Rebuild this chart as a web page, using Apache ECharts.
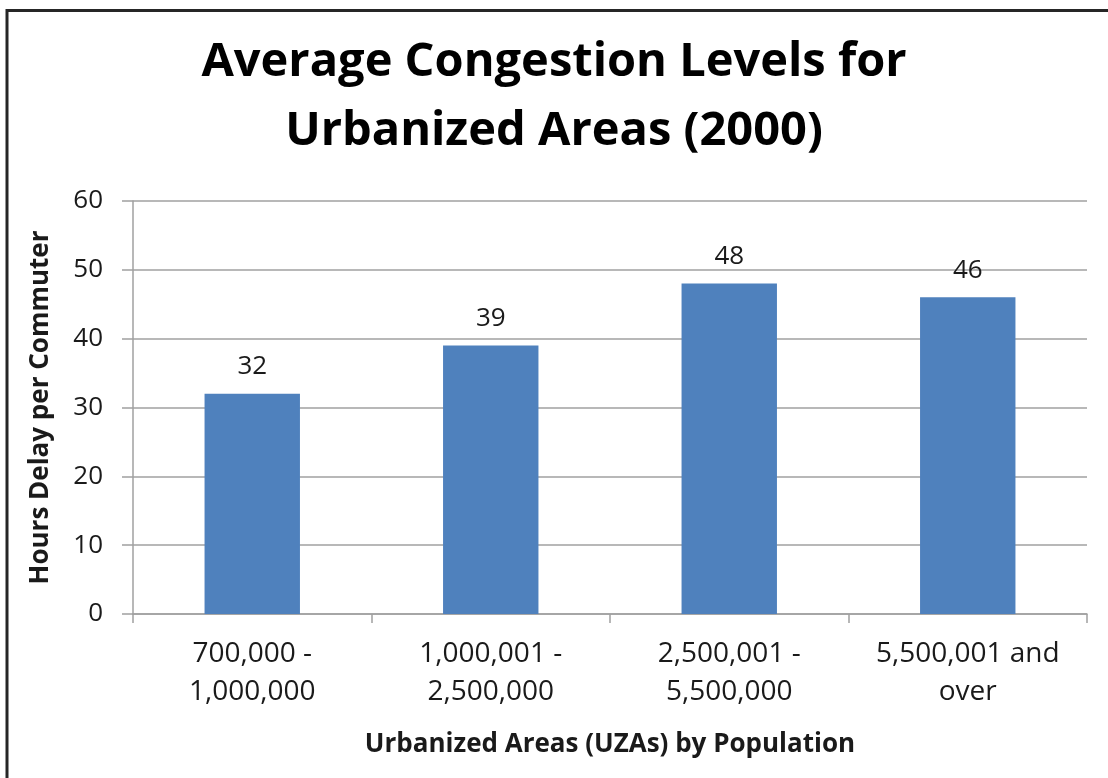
<!DOCTYPE html>
<html>
<head>
<meta charset="UTF-8">
<title>Congestion</title>
<script src="https://cdn.jsdelivr.net/npm/echarts@6/dist/echarts.min.js"></script>
<style>
  html, body, #chart { margin: 0; padding: 0; width: 1108px; height: 778px; background: #fff; }
</style>
</head>
<body>
<div id="chart"></div>
<script>
  // data
  const categories = ['700,000 -\n1,000,000', '1,000,001 -\n2,500,000', '2,500,001 -\n5,500,000', '5,500,001 and\nover'];
  const delayHours = [32, 39, 48, 46];
  const yTicks = { min: 0, max: 60, interval: 10 };

  const font = 'Open Sans';
  const txt = '#1a1a1a';

  const chart = echarts.init(document.getElementById('chart'));
  chart.setOption({
    animation: false,
    backgroundColor: '#fff',
    title: {
      text: 'Average Congestion Levels for\nUrbanized Areas (2000)',
      left: 'center',
      top: 23,
      textStyle: { fontFamily: font, fontWeight: 'bold', fontSize: 47, lineHeight: 69, color: '#000' }
    },
    graphic: [
      { type: 'line', shape: { x1: 7, y1: 10.5, x2: 1108, y2: 10.5 }, style: { stroke: '#262626', lineWidth: 3 } },
      { type: 'line', shape: { x1: 7, y1: 9, x2: 7, y2: 778 }, style: { stroke: '#262626', lineWidth: 3 } }
    ],
    grid: { left: 133, right: 21, top: 201, bottom: 164 },
    xAxis: {
      type: 'category',
      data: categories,
      name: 'Urbanized Areas (UZAs) by Population',
      nameLocation: 'middle',
      nameGap: 118,
      nameTextStyle: { fontFamily: font, fontWeight: 'bold', fontSize: 26, color: txt },
      axisLine: { lineStyle: { color: '#a0a0a0', width: 1.5 } },
      axisTick: { show: true, length: 9, alignWithLabel: false, lineStyle: { color: '#a0a0a0', width: 1.5 } },
      axisLabel: { fontFamily: font, fontSize: 28, lineHeight: 38, margin: 21, color: txt, interval: 0 }
    },
    yAxis: {
      type: 'value',
      min: yTicks.min,
      max: yTicks.max,
      interval: yTicks.interval,
      name: 'Hours Delay per Commuter',
      nameLocation: 'middle',
      nameGap: 79,
      nameTextStyle: { fontFamily: font, fontWeight: 'bold', fontSize: 26, color: txt },
      axisLine: { show: true, lineStyle: { color: '#a0a0a0', width: 1.5 } },
      axisTick: { show: true, length: 11, lineStyle: { color: '#a0a0a0', width: 1.5 } },
      axisLabel: { fontFamily: font, fontSize: 26, margin: 30, color: txt },
      splitLine: { lineStyle: { color: '#a0a0a0', width: 1.5 } }
    },
    series: [{
      type: 'bar',
      data: delayHours,
      barWidth: '40%',
      itemStyle: { color: '#4f81bd' },
      label: { show: true, position: 'top', distance: 14, fontFamily: font, fontSize: 26, color: txt }
    }]
  });
</script>
</body>
</html>
